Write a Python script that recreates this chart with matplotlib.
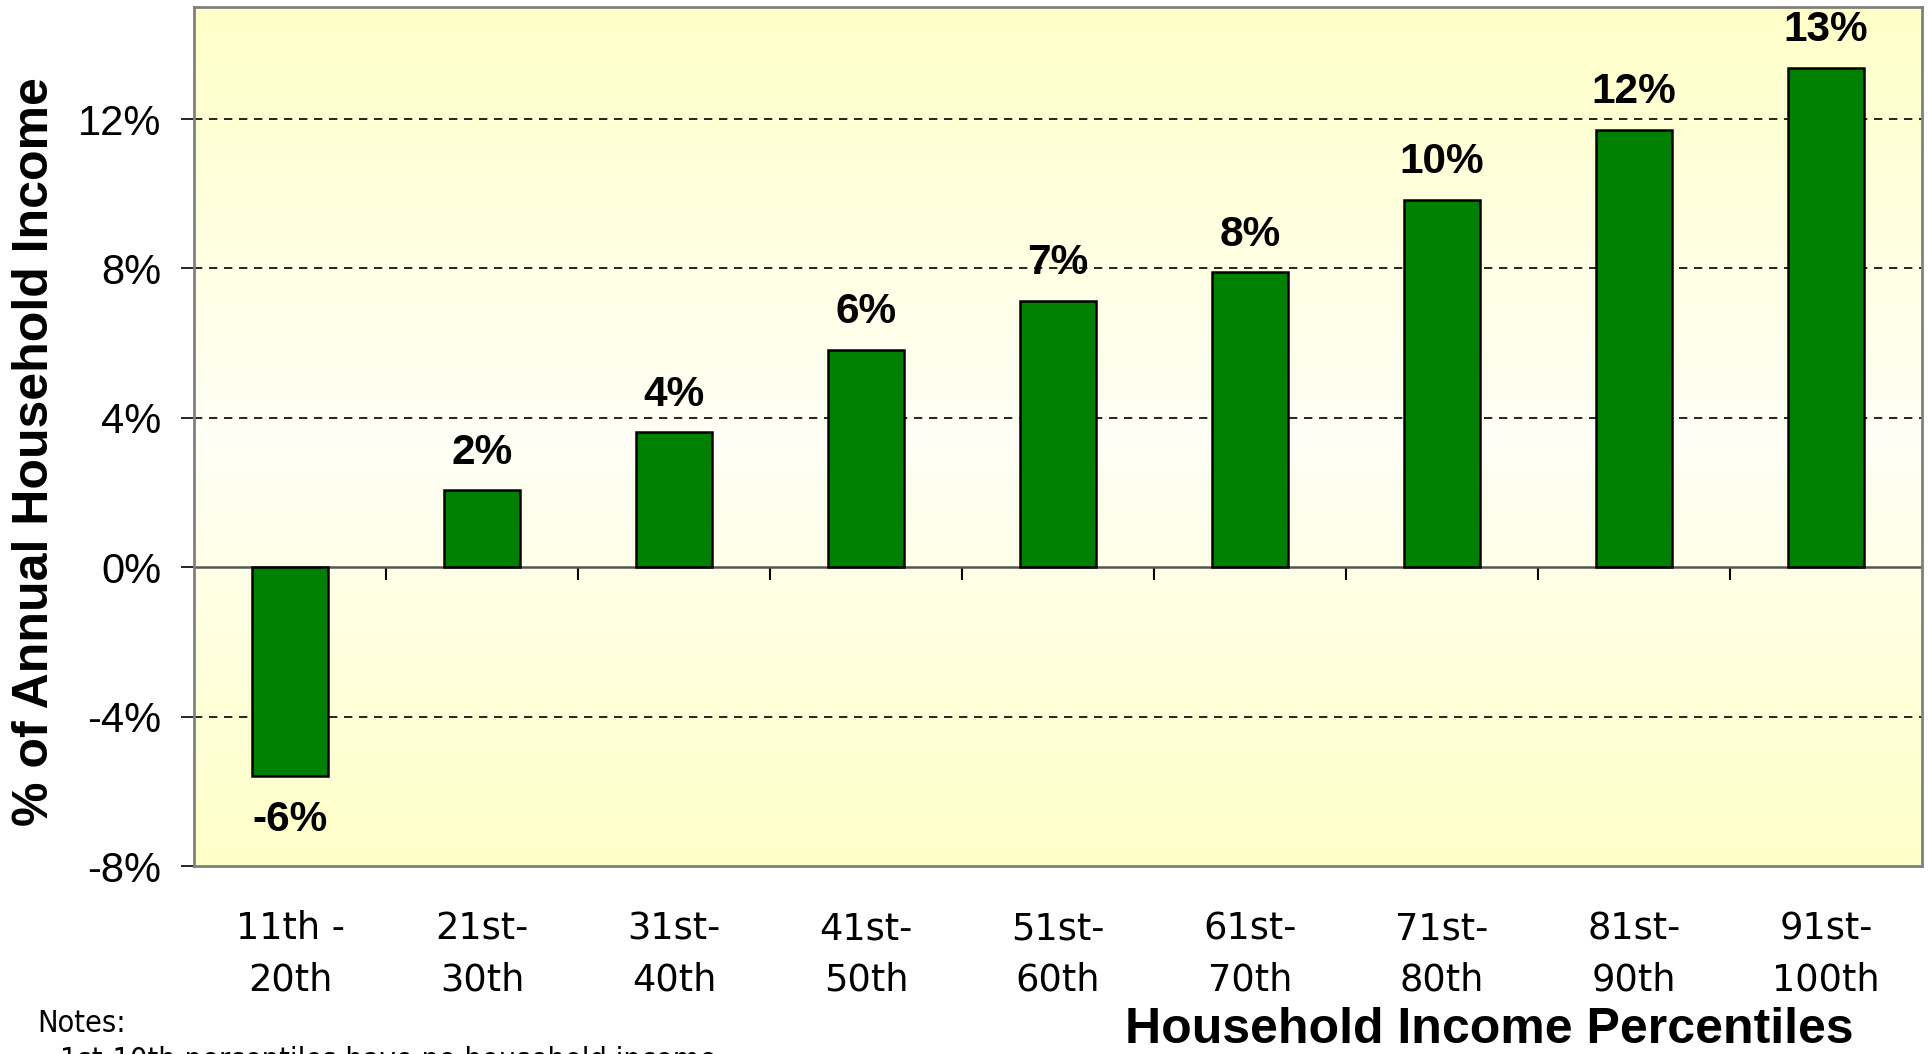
import numpy as np
import matplotlib
matplotlib.use("Agg")
import matplotlib.pyplot as plt
from matplotlib.colors import LinearSegmentedColormap

# data
categories = ["11th -\n20th", "21st-\n30th", "31st-\n40th", "41st-\n50th", "51st-\n60th",
              "61st-\n70th", "71st-\n80th", "81st-\n90th", "91st-\n100th"]
values = [-5.6, 2.06, 3.61, 5.82, 7.14, 7.9, 9.84, 11.72, 13.37]
bar_labels = ["-6%", "2%", "4%", "6%", "7%", "8%", "10%", "12%", "13%"]
yticks = [-8, -4, 0, 4, 8, 12]
ytick_labels = ["-8%", "-4%", "0%", "4%", "8%", "12%"]

W, H = 1928, 1054
fig = plt.figure(figsize=(W / 100, H / 100), dpi=100)
ax = fig.add_axes([194 / W, 1 - 866 / H, (1922 - 194) / W, (866 - 7) / H])

ymin, ymax = -8, 15
x = np.arange(len(categories))

# background gradient: yellow top, near white middle, yellow bottom
cmap = LinearSegmentedColormap.from_list("bg", ["#ffffc8", "#fffff6", "#ffffc8"])
grad = np.linspace(0, 1, 256).reshape(-1, 1)
ax.imshow(grad, cmap=cmap, aspect="auto", extent=[0, 1, 0, 1],
          transform=ax.transAxes, zorder=0)

ax.set_xlim(-0.5, len(categories) - 0.5)
ax.set_ylim(ymin, ymax)

# grid
for yv in yticks:
    if yv in (0, ymin):
        continue
    ax.axhline(yv, color="black", lw=1.2, ls=(0, (5, 4)), zorder=1)

ax.bar(x, values, width=0.4, color="#008000", edgecolor="black", linewidth=1.8, zorder=3)

for xi, v, lab in zip(x, values, bar_labels):
    if v >= 0:
        ax.annotate(lab, (xi, v), xytext=(0, 19), textcoords="offset points",
                    ha="center", va="baseline", fontsize=30.5, fontweight="bold",
                    family="Liberation Sans", zorder=4)
    else:
        ax.annotate(lab, (xi, v), xytext=(0, -17), textcoords="offset points",
                    ha="center", va="top", fontsize=30.5, fontweight="bold",
                    family="Liberation Sans", zorder=4)

# y axis
ax.set_yticks(yticks)
ax.set_yticklabels(ytick_labels, family="Liberation Sans", fontsize=30)
ax.tick_params(axis="y", length=9.5, width=1.2, pad=14, color="black")

# x axis labels at the bottom
ax.set_xticks(x)
ax.set_xticklabels(categories, family="DejaVu Sans", fontsize=26.5, linespacing=1.5)
ax.tick_params(axis="x", length=0, pad=32)

for s in ax.spines.values():
    s.set_color("#808080")
    s.set_linewidth(2)
    s.set_zorder(5)

# zero line with tick marks between categories
sec = ax.secondary_xaxis((0 - ymin) / (ymax - ymin))
sec.set_xticks(x[:-1] + 0.5)
sec.set_xticklabels([])
sec.tick_params(axis="x", length=9, width=1.5, direction="out", color="black")
sec.spines["bottom"].set_color("#555555")
sec.spines["bottom"].set_linewidth(1.8)

fig.text(35 / W, 1 - 452 / H, "% of Annual Household Income", rotation=90,
         ha="center", va="center", fontsize=36, fontweight="bold", family="Liberation Sans")
fig.text(1489 / W, 1 - 1030 / H, "Household Income Percentiles",
         ha="center", va="center", fontsize=36, fontweight="bold", family="Liberation Sans")

fig.text(37 / W, 1 - 1024 / H, "Notes:", ha="left", va="center", fontsize=22,
         family="DejaVu Sans", fontstretch="condensed")
# this line is cut by the bottom edge in the original too
fig.text(60 / W, 1 - 1046 / H, "1st-10th percentiles have no household income",
         ha="left", va="top", fontsize=22, family="DejaVu Sans", fontstretch="condensed")

fig.savefig("out.png", dpi=100, facecolor="white")
